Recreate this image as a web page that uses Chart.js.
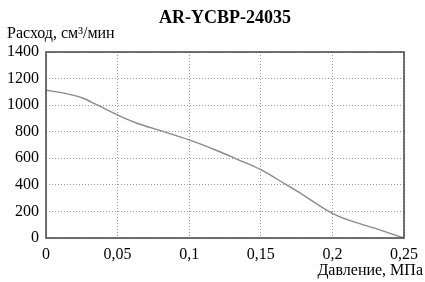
<!DOCTYPE html>
<html>
<head>
<meta charset="utf-8">
<script src="https://cdn.jsdelivr.net/npm/chart.js@4"></script>
<style>
  html, body { margin: 0; padding: 0; background: #fff; }
  #wrap { width: 425px; height: 282px; }
</style>
</head>
<body>
<div id="wrap"><canvas id="flowChart" width="425" height="282"></canvas></div>
<script>
// pressure, MPa
const pressure = [0, 0.012, 0.026, 0.035, 0.0535, 0.065, 0.08, 0.1, 0.12, 0.132, 0.15, 0.168, 0.175, 0.2, 0.21, 0.23, 0.25];
// flow, cm3/min
const flow = [1112, 1092, 1052, 1005, 908, 858, 808, 738, 655, 600, 515, 400, 355, 185, 140, 72, 0];

const chartTitle = 'AR-YCBP-24035';
const yTitle = 'Расход, см³/мин';
const xTitle = 'Давление, МПа';

const serif = '"Liberation Serif", "DejaVu Serif", serif';

const frameAndTitles = {
    id: 'frameAndTitles',
    afterDraw(chart) {
        const ctx = chart.ctx;
        const a = chart.chartArea;
        ctx.save();
        // frame
        ctx.strokeStyle = '#444';
        ctx.lineWidth = 1.5;
        ctx.strokeRect(a.left, a.top, a.right - a.left, a.bottom - a.top);
        // texts
        ctx.fillStyle = '#000';
        ctx.textBaseline = 'alphabetic';
        ctx.font = 'bold 18px ' + serif;
        ctx.textAlign = 'center';
        ctx.fillText(chartTitle, (a.left + a.right) / 2, 23);
        ctx.font = '16px ' + serif;
        ctx.textAlign = 'left';
        ctx.fillText(yTitle, 7, 38);
        ctx.textAlign = 'right';
        ctx.fillText(xTitle, 423, 275);
        ctx.restore();
    }
};

new Chart(document.getElementById('flowChart'), {
    type: 'scatter',
    data: {
        datasets: [{
            data: pressure.map((p, i) => ({ x: p, y: flow[i] })),
            showLine: true,
            borderColor: '#8a8a8a',
            borderWidth: 1.4,
            pointRadius: 0,
            cubicInterpolationMode: 'monotone',
        }]
    },
    options: {
        responsive: false,
        animation: false,
        layout: { padding: { top: 52, right: 17, left: 0, bottom: 0 } },
        plugins: {
            legend: { display: false },
            tooltip: { enabled: false },
        },
        scales: {
            x: {
                type: 'linear',
                min: 0,
                max: 0.25,
                afterFit(s) { s.height = 44; },
                ticks: {
                    stepSize: 0.05,
                    color: '#000',
                    padding: 7,
                    maxRotation: 0,
                    font: { family: serif, size: 16 },
                    callback: v => String(Math.round(v * 100) / 100).replace('.', ','),
                },
                grid: { color: '#999', drawTicks: false },
                border: { display: false, dash: [1, 2] },
            },
            y: {
                type: 'linear',
                min: 0,
                max: 1400,
                afterFit(s) { s.width = 46; },
                ticks: {
                    stepSize: 200,
                    color: '#000',
                    padding: 7,
                    font: { family: serif, size: 16 },
                    callback: v => String(v),
                },
                grid: { color: '#999', drawTicks: false },
                border: { display: false, dash: [1, 2] },
            }
        }
    },
    plugins: [frameAndTitles]
});
</script>
</body>
</html>
